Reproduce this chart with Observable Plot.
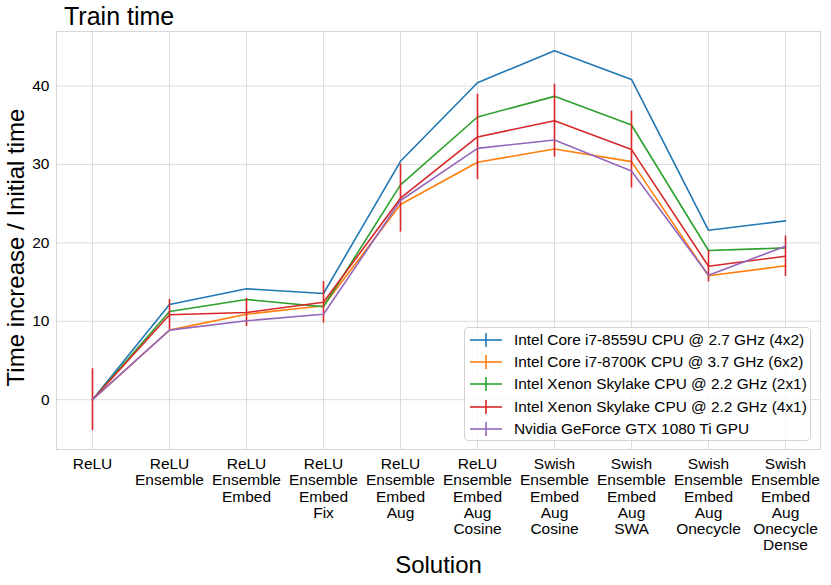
<!DOCTYPE html>
<html>
<head>
<meta charset="utf-8">
<script src="https://cdn.jsdelivr.net/npm/d3@7"></script>
<script src="https://cdn.jsdelivr.net/npm/@observablehq/plot@0.6"></script>
<style>
  body { margin: 0; background: #fff; }
  #wrap { position: relative; width: 831px; height: 585px; font-family: "Liberation Sans", Arial, sans-serif; color: #000; }
  #title { position: absolute; left: 64px; top: 4px; font-size: 25px; line-height: 25px; white-space: nowrap; }
  #legend { position: absolute; left: 464px; top: 327px; width: 347px; height: 114px; box-sizing: border-box;
            border: 1px solid #d4d4d4; border-radius: 4px; background: rgba(255,255,255,0.8); }
  .row { position: absolute; left: 0; height: 22px; display: flex; align-items: center; font-size: 15.4px; white-space: nowrap; }
  .row svg { margin-left: 5px; margin-right: 12px; }
</style>
</head>
<body>
<div id="wrap">
  <div id="chart"></div>
  <div id="title"></div>
  <div id="legend"></div>
</div>
<script>
const titleText = "Train time";
const xLabel = "Solution";
const yLabel = "Time increase / Initial time";
const categories = [
  "ReLU",
  "ReLU Ensemble",
  "ReLU Ensemble Embed",
  "ReLU Ensemble Embed Fix",
  "ReLU Ensemble Embed Aug",
  "ReLU Ensemble Embed Aug Cosine",
  "Swish Ensemble Embed Aug Cosine",
  "Swish Ensemble Embed Aug SWA",
  "Swish Ensemble Embed Aug Onecycle",
  "Swish Ensemble Embed Aug Onecycle Dense"
];
const seriesNames = [
  "Intel Core i7-8559U CPU @ 2.7 GHz (4x2)",
  "Intel Core i7-8700K CPU @ 3.7 GHz (6x2)",
  "Intel Xenon Skylake CPU @ 2.2 GHz (2x1)",
  "Intel Xenon Skylake CPU @ 2.2 GHz (4x1)",
  "Nvidia GeForce GTX 1080 Ti GPU"
];
const colors = ["#1f77b4", "#ff7f0e", "#2ca02c", "#d62728", "#9467bd"];
const i7_8559U = [0, 12.14, 14.14, 13.54, 30.4, 40.42, 44.5, 40.84, 21.6, 22.8];
const i7_8700K = [0, 8.87, 10.9, 11.97, 24.9, 30.27, 31.97, 30.36, 15.8, 17.07];
const xenon2x1 = [0, 11.25, 12.78, 11.85, 27.4, 36.05, 38.68, 35.03, 19.02, 19.36];
const xenon4x1 = [0, 10.83, 11.12, 12.43, 25.7, 33.5, 35.58, 31.89, 17.02, 18.3];
const gtx1080 = [0, 8.87, 10.06, 10.9, 25.4, 32.05, 33.12, 29.17, 15.87, 19.57];
const xenon4x1Err = [3.95, 1.93, 1.8, 2.65, 4.33, 5.44, 4.65, 4.9, 2.0, 2.57];
const yTicks = [0, 10, 20, 30, 40];

const seriesValues = [i7_8559U, i7_8700K, xenon2x1, xenon4x1, gtx1080];
const errors = [null, null, null, xenon4x1Err, null];

const marks = [
  Plot.gridX({stroke: "#dcdcdc", strokeOpacity: 1, strokeWidth: 1}),
  Plot.gridY(yTicks, {stroke: "#dcdcdc", strokeOpacity: 1, strokeWidth: 1}),
  Plot.frame({stroke: "#d6d6d6", strokeWidth: 1})
];
seriesValues.forEach((vals, s) => {
  const rows = categories.map((c, i) => ({cat: c, value: vals[i], err: errors[s] ? errors[s][i] : 0}));
  marks.push(Plot.lineY(rows, {x: "cat", y: "value", stroke: colors[s], strokeWidth: 1.6}));
  if (errors[s]) {
    marks.push(Plot.ruleX(rows, {x: "cat", y1: d => d.value - d.err, y2: d => d.value + d.err, stroke: colors[s], strokeWidth: 1.6}));
  }
});
marks.push(
  Plot.axisX({tickSize: 0, tickPadding: 8, fontSize: 15.5, lineHeight: 1.05, label: null,
              tickFormat: d => d.split(" ").join("\n")}),
  Plot.axisY(yTicks, {tickSize: 0, tickPadding: 7, fontSize: 15.5, label: null}),
  Plot.text([xLabel], {frameAnchor: "bottom", dy: 116, fontSize: 24, lineAnchor: "middle", textAnchor: "middle"}),
  Plot.text([yLabel], {frameAnchor: "left", dx: -40, dy: 7, rotate: -90, fontSize: 24, lineAnchor: "middle", textAnchor: "middle"})
);

const chart = Plot.plot({
  width: 831,
  height: 585,
  marginLeft: 56,
  marginRight: 11,
  marginTop: 31,
  marginBottom: 136,
  style: {fontFamily: "Liberation Sans, Arial, sans-serif", color: "#000", background: "#fff", overflow: "visible"},
  x: {type: "point", domain: categories, padding: 0.45},
  y: {domain: [-6.35, 46.95]},
  marks
});
document.getElementById("chart").appendChild(chart);
document.getElementById("title").textContent = titleText;

const legend = document.getElementById("legend");
seriesNames.forEach((name, i) => {
  const row = document.createElement("div");
  row.className = "row";
  row.style.top = (1 + i * 22.2) + "px";
  row.innerHTML = `<svg width="32" height="14"><line x1="0" x2="32" y1="7" y2="7" stroke="${colors[i]}" stroke-width="1.6"/><line x1="16" x2="16" y1="0" y2="14" stroke="${colors[i]}" stroke-width="1.6"/></svg>`;
  const span = document.createElement("span");
  span.textContent = name;
  row.appendChild(span);
  legend.appendChild(row);
});
</script>
</body>
</html>
